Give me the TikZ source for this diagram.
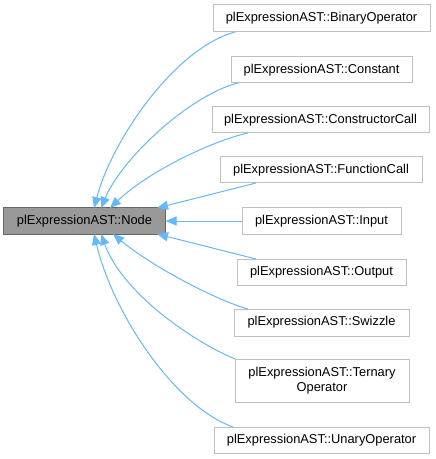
\documentclass[tikz,border=0pt]{standalone}
\usepackage{fontspec}
\setmainfont{Liberation Sans}
\usetikzlibrary{arrows.meta}
\definecolor{edgeblue}{HTML}{63B8FF}
\definecolor{boxgray}{HTML}{BFBFBF}
\definecolor{basefill}{HTML}{999999}
\definecolor{baseline}{HTML}{666666}
\begin{document}
\begin{tikzpicture}[x=1bp,y=-1bp,
  cls/.style={draw=boxgray,fill=white,line width=1bp,inner sep=0pt,minimum height=26bp,align=center,font=\fontsize{12.9}{15}\selectfont},
  base/.style={draw=baseline,fill=basefill,line width=1bp,inner sep=0pt,minimum height=26bp,font=\fontsize{12.9}{15}\selectfont},
  inh/.style={draw=edgeblue,line width=1bp,-{Triangle[length=11bp,width=9bp]}}]
\useasboundingbox (0,0) rectangle (436,459);
\node[base,minimum width=161bp] (node) at (84.5,221) {plExpressionAST::Node};
\node[cls,minimum width=217bp,minimum height=27bp] (bin) at (321.5,18.5) {plExpressionAST::BinaryOperator};
\node[cls,minimum width=181bp] (con) at (321.5,70) {plExpressionAST::Constant};
\node[cls,minimum width=217bp] (ctor) at (320.5,120) {plExpressionAST::ConstructorCall};
\node[cls,minimum width=202bp] (func) at (321,170) {plExpressionAST::FunctionCall};
\node[cls,minimum width=159bp,minimum height=27bp] (inp) at (321.5,221) {plExpressionAST::Input};
\node[cls,minimum width=169bp] (out) at (321.5,272) {plExpressionAST::Output};
\node[cls,minimum width=175bp,minimum height=27bp] (swz) at (321.5,322.5) {plExpressionAST::Swizzle};
\node[cls,minimum width=174bp,minimum height=43bp] (ter) at (322,380.5) {plExpressionAST::Ternary\\Operator};
\node[cls,minimum width=215bp] (una) at (321.5,440) {plExpressionAST::UnaryOperator};
% end points
\coordinate (bS) at (235,32);   \coordinate (bT) at (94,208);
\coordinate (cS) at (238,83);   \coordinate (cT) at (101,208);
\coordinate (kS) at (248,133);  \coordinate (kT) at (110,208);
\coordinate (fS) at (256,183);  \coordinate (fT) at (157,208);
\coordinate (oS) at (256,259);  \coordinate (oT) at (157,234);
\coordinate (sS) at (248,309);  \coordinate (sT) at (113,234);
\coordinate (tS) at (235,359);  \coordinate (tT) at (101,234);
\coordinate (uS) at (233,427);  \coordinate (uT) at (94,234);
\draw[inh] (bS) .. controls (175,48) and (112,140) .. (bT);
\draw[inh] (cS) .. controls (190,95) and (122,158) .. (cT);
\draw[inh] (kS) .. controls (215,140) and (150,170) .. (kT);
\draw[inh] (fS) -- (fT);
\draw[inh] (inp.west) -- (node.east);
\draw[inh] (oS) -- (oT);
\draw[inh] (sS) .. controls (215,300) and (150,265) .. (sT);
\draw[inh] (tS) .. controls (190,340) and (122,292) .. (tT);
\draw[inh] (uS) .. controls (172,405) and (112,310) .. (uT);
\end{tikzpicture}
\end{document}
